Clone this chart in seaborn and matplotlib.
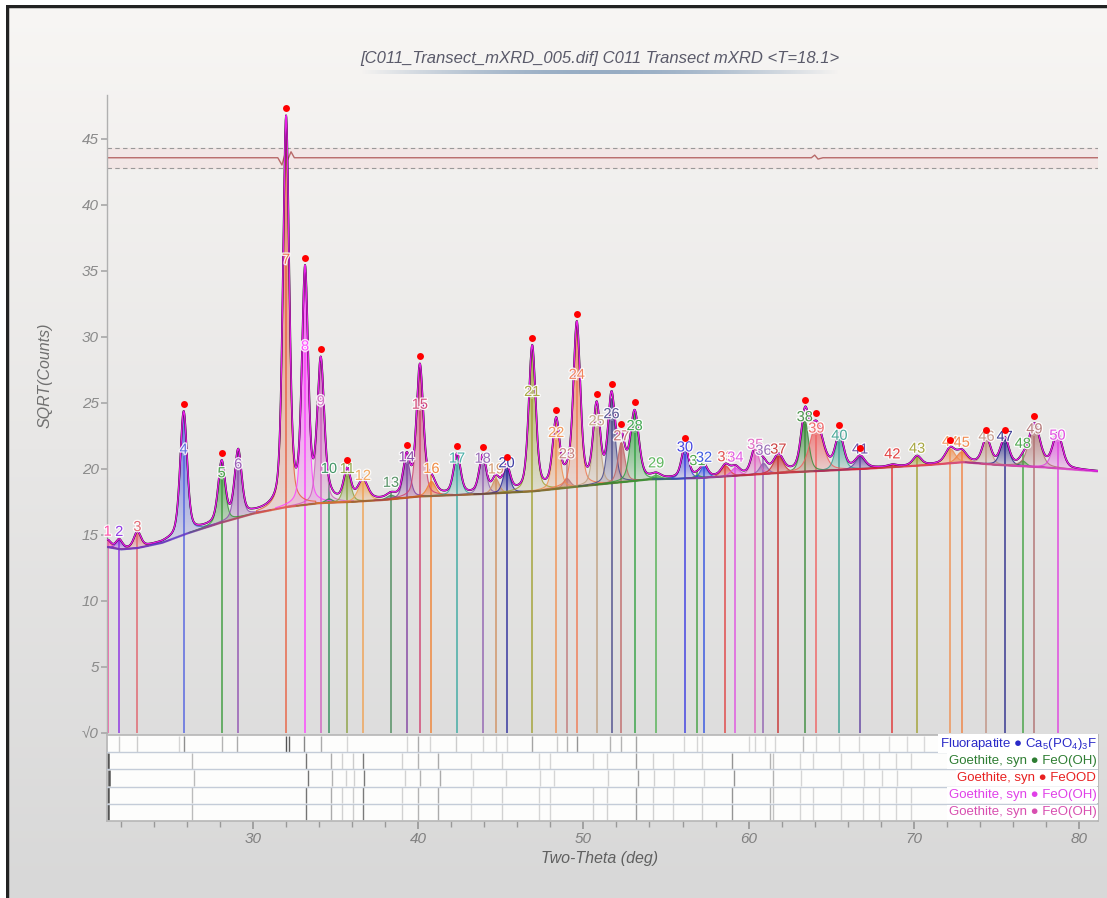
import numpy as np
import seaborn as sns
import matplotlib.pyplot as plt
import matplotlib.patheffects as pe
from matplotlib.colors import to_rgb, LinearSegmentedColormap
from matplotlib.collections import LineCollection
from matplotlib.patches import Rectangle
from matplotlib.lines import Line2D

# ---- peak list (2theta deg, net height above background, FWHM deg)
peak_pos = [21.2, 21.9, 23.0, 25.8, 28.1, 29.1, 32.0, 33.15, 34.1, 34.6,
            35.7, 36.65, 38.35, 39.3, 40.1, 40.8, 42.35, 43.9, 44.7, 45.35,
            46.9, 48.35, 49.0, 49.6, 50.8, 51.7, 52.3, 53.1, 54.4, 56.15,
            56.9, 57.3, 58.6, 59.2, 60.4, 60.9, 61.8, 63.4, 64.1, 65.5,
            66.75, 68.7, 70.2, 72.2, 72.9, 74.4, 75.5, 76.6, 77.3, 78.7]
peak_height = [0.5, 0.7, 1.2, 9.3, 4.5, 5.0, 29.3, 17.4, 10.5, 0.3,
               2.3, 1.5, 0.3, 3.0, 9.8, 1.1, 3.0, 2.8, 1.1, 1.9,
               10.9, 5.0, 0.7, 12.2, 5.8, 6.4, 3.0, 5.1, 0.3, 2.4,
               0.2, 0.9, 0.8, 0.6, 2.0, 0.8, 1.3, 3.9, 3.5, 2.6,
               0.9, 0.15, 0.7, 1.1, 0.8, 1.9, 2.0, 0.4, 3.2, 2.6]
peak_fwhm = [0.45, 0.45, 0.5, 0.5, 0.5, 0.5, 0.45, 0.45, 0.5, 0.5,
             0.5, 0.7, 0.6, 0.5, 0.5, 0.6, 0.5, 0.5, 0.5, 0.5,
             0.5, 0.5, 0.5, 0.5, 0.5, 0.5, 0.5, 0.6, 0.6, 0.5,
             0.5, 0.5, 0.6, 0.6, 0.55, 0.55, 0.7, 0.55, 0.95, 0.6,
             0.7, 0.6, 0.6, 0.7, 0.7, 0.6, 0.6, 0.5, 0.8, 0.7]
peak_colors = ['#ff3fa0', '#8a2be2', '#e0606a', '#5060e0', '#3a9a3a', '#9050b0', '#e86040', '#ff40ff', '#d060c0', '#2e8b57',
               '#8aa040', '#f0a050', '#4a8a5a', '#8040a0', '#d04070', '#f08030', '#3aa8a0', '#9060b0', '#d09060', '#2a2a9a',
               '#a0a030', '#f09050', '#c07878', '#f07850', '#c0a080', '#4a4a8a', '#c06868', '#30a040', '#50b050', '#3838e0',
               '#40a040', '#3050e0', '#e04040', '#e050e0', '#e060c0', '#9060b0', '#c83030', '#3a8a3a', '#f06060', '#3aa090',
               '#6040a0', '#e03030', '#a0a030', '#f09050', '#f08040', '#c09080', '#2a2a8a', '#40a040', '#b07070', '#e040e0']
marked_peaks = [4, 5, 7, 8, 9, 11, 14, 15, 17, 18, 20, 21, 22, 24, 25, 26, 27, 28,
                30, 38, 39, 40, 41, 44, 46, 47, 49]

# background knots
bg_deg = [21.1, 22.0, 23.0, 24.5, 26.0, 28.0, 30.0, 32.0, 34.0, 36.0, 38.0, 40.0,
          44.0, 47.0, 50.0, 54.0, 57.0, 62.0, 67.0, 71.0, 73.0, 75.0, 78.0, 81.2]
bg_val = [14.1, 13.9, 14.0, 14.4, 15.1, 15.9, 16.6, 17.1, 17.4, 17.5, 17.65, 17.9,
          18.1, 18.3, 18.7, 19.2, 19.3, 19.7, 20.0, 20.3, 20.5, 20.3, 20.1, 19.8]

# residual trace (difference curve shown at the top)
res_deg = [21.2, 31.5, 31.75, 31.95, 32.1, 32.3, 32.5, 33.0, 63.8, 64.0, 64.2, 64.5, 81.2]
res_val = [43.55, 43.55, 43.0, 43.9, 43.4, 44.0, 43.55, 43.55, 43.55, 43.75, 43.45, 43.55, 43.55]

# reference stick patterns for the phase strips (position, relative intensity)
fluorapatite_pos = [21.1, 21.9, 23.0, 25.5, 25.85, 28.1, 29.05, 32.0, 32.2, 33.1, 34.1, 35.7,
                    39.3, 40.0, 40.7, 42.3, 43.9, 44.7, 45.4, 46.9, 48.4, 49.0, 49.6, 51.6,
                    52.3, 53.2, 56.1, 56.9, 57.2, 60.0, 60.4, 61.0, 61.6, 63.3, 64.1, 65.5,
                    66.7, 68.5, 69.6, 70.6]
fluorapatite_int = [40, 15, 15, 10, 55, 30, 35, 100, 90, 60, 35, 10,
                    10, 35, 10, 15, 10, 10, 10, 40, 15, 30, 50, 30,
                    30, 40, 10, 10, 10, 10, 10, 10, 10, 25, 10, 10,
                    10, 8, 8, 8]
goethite_pos = [21.2, 26.3, 33.2, 34.7, 35.4, 36.05, 36.65, 39.0, 40.0, 41.2, 43.2, 45.1,
                47.3, 48.0, 50.6, 51.4, 53.2, 54.2, 55.4, 57.2, 59.0, 61.3, 61.5, 63.1,
                63.9, 65.6, 66.9, 67.9, 68.9, 69.8]
goethite_int = [100, 25, 75, 35, 12, 15, 70, 12, 30, 35, 10, 12,
                10, 10, 12, 12, 45, 12, 10, 12, 50, 30, 20, 10,
                10, 10, 10, 10, 10, 10]
feood_pos = [21.3, 26.4, 33.3, 34.8, 35.6, 36.1, 36.7, 39.2, 40.1, 41.3, 43.3, 45.3,
             47.4, 48.2, 51.5, 53.3, 54.3, 55.5, 57.3, 59.1, 61.5, 63.2, 65.7, 67.0,
             68.1, 69.0]
feood_int = [100, 25, 75, 30, 12, 12, 70, 12, 30, 35, 10, 12,
             10, 10, 12, 45, 12, 10, 10, 50, 30, 10, 10, 10,
             10, 10]

phase_names = ['Fluorapatite', 'Goethite, syn', 'Goethite, syn', 'Goethite, syn', 'Goethite, syn']
phase_formulas = [r'$\mathregular{Ca_5(PO_4)_3F}$', 'FeO(OH)', 'FeOOD', 'FeO(OH)', 'FeO(OH)']
phase_colors = ['#2a2ac8', '#2e7d32', '#e82020', '#e040e8', '#d84fb0']
phase_sticks = [(fluorapatite_pos, fluorapatite_int), (goethite_pos, goethite_int),
                (feood_pos, feood_int), (goethite_pos, goethite_int), (goethite_pos, goethite_int)]

title = '[C011_Transect_mXRD_005.dif] C011 Transect mXRD <T=18.1>'

sns.set_theme(style='white')
plt.rcParams['font.family'] = ['Liberation Sans', 'DejaVu Sans']

W, H = 1107, 898
fig = plt.figure(figsize=(W / 100, H / 100), dpi=100)

# panel background gradient
bgax = fig.add_axes([0, 0, 1, 1], zorder=-10)
top_c = np.array([248, 246, 244]) / 255
bot_c = np.array([216, 216, 216]) / 255
t = np.linspace(0, 1, 256)[:, None]
grad = (top_c * (1 - t) + bot_c * t)[:, None, :]
bgax.imshow(grad, extent=[0, 1, 0, 1], aspect='auto', origin='upper')
bgax.set_axis_off()

XMIN, XMAX = 21.16, 81.15
ax = fig.add_axes([107 / W, 1 - 733 / H, (1098 - 107) / W, (733 - 95) / H])
ax.patch.set_alpha(0)

x = np.linspace(XMIN, XMAX, 5000)
bg = np.interp(x, bg_deg, bg_val)


def pseudo_voigt(xx, c, w, eta=0.4):
    lor = 1.0 / (1.0 + ((xx - c) / (w / 2)) ** 2)
    gau = np.exp(-4 * np.log(2) * ((xx - c) / w) ** 2)
    return eta * lor + (1 - eta) * gau


comps = [h * pseudo_voigt(x, c, w) for c, h, w in zip(peak_pos, peak_height, peak_fwhm)]
total = bg + np.sum(comps, axis=0)

# individual peak fills with vertical gradient
for i, (c, w, comp, col) in enumerate(zip(peak_pos, peak_fwhm, comps, peak_colors)):
    m = (x > c - 4 * w) & (x < c + 4 * w)
    poly = ax.fill_between(x[m], bg[m], bg[m] + comp[m], facecolor='none',
                           edgecolor=col, lw=0.8, alpha=0.85, zorder=3)
    rgb = np.array(to_rgb(col))
    ng = 64
    g = np.zeros((ng, 1, 4))
    g[:, 0, :3] = rgb
    g[:, 0, 3] = np.linspace(0.12, 0.85, ng)
    y0 = bg[m].min()
    y1 = (bg[m] + comp[m]).max()
    im = ax.imshow(g, extent=[x[m][0], x[m][-1], y0, y1], aspect='auto',
                   origin='lower', zorder=2, interpolation='bilinear')
    im.set_clip_path(poly.get_paths()[0], transform=ax.transData)

# drop lines, labels, markers
halo = [pe.withStroke(linewidth=1.8, foreground=(1, 1, 1, 0.6))]
for i, (c, h, col) in enumerate(zip(peak_pos, peak_height, peak_colors)):
    top = np.interp(c, x, total)
    lab_y = top + 0.8 - 0.4 * h
    line_top = min(top, lab_y - 0.5)
    ax.vlines(c, 0, line_top, color=col, lw=1.2, alpha=0.85, zorder=1.5)
    ax.text(c, lab_y, str(i + 1), color=col, fontsize=10.5, ha='center', va='center',
            alpha=0.9, zorder=6, path_effects=halo)
    if (i + 1) in marked_peaks:
        ax.plot(c, top + 0.55, 'o', color='#ff0000', ms=5, mec='none', zorder=7)

# measured and fitted profile
sns.lineplot(x=x, y=total, ax=ax, color='black', lw=1.3, zorder=4)
sns.lineplot(x=x, y=total, ax=ax, color='#e61ee6', lw=1.0, zorder=5)

# coloured background line
bl_cmap = LinearSegmentedColormap.from_list('bl', [
    (0.0, '#4b2fd0'), (0.08, '#7030c0'), (0.12, '#c04060'), (0.18, '#e06030'),
    (0.28, '#c05020'), (0.38, '#8a5a20'), (0.48, '#4a7a20'), (0.55, '#3a8a30'),
    (0.58, '#4040c0'), (0.65, '#c03040'), (0.78, '#e02040'), (0.9, '#e040a0'),
    (1.0, '#e040e0')])
pts = np.column_stack([x, bg])
segs = np.stack([pts[:-1], pts[1:]], axis=1)
lc = LineCollection(segs, cmap=bl_cmap, lw=1.5, zorder=4.5)
lc.set_array((x[:-1] - XMIN) / (XMAX - XMIN))
ax.add_collection(lc)

# difference curve band
ax.axhspan(42.8, 44.3, color='#f3dede', alpha=0.5, zorder=1)
ax.axhline(44.3, color='#999999', lw=0.8, ls=(0, (4, 3)), zorder=1.2)
ax.axhline(42.8, color='#999999', lw=0.8, ls=(0, (4, 3)), zorder=1.2)
sns.lineplot(x=res_deg, y=res_val, ax=ax, color='#b86a6a', lw=1.0, zorder=1.3)

ax.set_xlim(XMIN, XMAX)
ax.set_ylim(0, 48.3)
ax.set_xticks([])
ax.set_xlabel('')
ax.set_ylabel('')
yt = list(range(0, 50, 5))
ax.set_yticks(yt)
ax.set_yticklabels(['\u221a0'] + [str(v) for v in yt[1:]], fontstyle='italic',
                   color='#8a8a8a', fontsize=11)
ax.tick_params(axis='y', left=True, length=4, color='#aaaaaa', pad=2)
for s in ['top', 'right', 'bottom']:
    ax.spines[s].set_visible(False)
ax.spines['left'].set_color('#b0b0b0')
ax.spines['left'].set_linewidth(1.0)

# phase strips
sax = fig.add_axes([107 / W, 1 - 821 / H, (1098 - 107) / W, (821 - 735) / H])
sax.set_xlim(XMIN, XMAX)
sax.set_ylim(5, 0)
sax.set_facecolor('#fdfdfc')
for r, ((spos, sint), name, form, pc) in enumerate(zip(phase_sticks, phase_names,
                                                       phase_formulas, phase_colors)):
    for p, v in zip(spos, sint):
        shade = 0.93 - 0.6 * (v / 100) ** 0.8
        sax.vlines(p, r + 0.04, r + 0.96, color=str(shade),
                   lw=1.8 if (v >= 90 and p < 22) else 1.0, zorder=2)
    sax.text(81.05, r + 0.5, f'{name} \u25cf {form}', color=pc, fontsize=9.5,
             ha='right', va='center', zorder=5,
             bbox=dict(facecolor='white', edgecolor='none', pad=1.2))
for r in range(1, 5):
    sax.axhline(r, color='#c4ccd8', lw=1.0, zorder=3)
for s in sax.spines.values():
    s.set_color('#b8b8b8')
sax.set_yticks([])
sax.set_xticks(range(30, 81, 10))
sax.set_xticks(np.arange(22, 81, 2), minor=True)
sax.set_xticklabels([str(v) for v in range(30, 81, 10)], fontstyle='italic',
                    color='#808080', fontsize=11)
sax.tick_params(axis='x', which='both', bottom=True, direction='out', color='#999999', pad=2)
sax.tick_params(axis='x', which='major', length=6)
sax.tick_params(axis='x', which='minor', length=4)

# texts
fig.text(600 / W, 1 - 58 / H, title, ha='center', va='center', fontsize=12,
         fontstyle='italic', color='#5a5a6a')
ul = fig.add_axes([360 / W, 1 - 74 / H, 480 / W, 4 / H])
ug = np.zeros((1, 256, 4))
ug[0, :, :3] = to_rgb('#7f9ab8')
ug[0, :, 3] = np.sin(np.linspace(0, np.pi, 256)) * 0.8
ul.imshow(ug, aspect='auto', extent=[0, 1, 0, 1])
ul.set_axis_off()

fig.text(45 / W, 1 - 375 / H, 'SQRT(Counts)', rotation=90, ha='center', va='center',
         fontsize=11.5, fontstyle='italic', color='#707070')
fig.text(600 / W, 1 - 858 / H, 'Two-Theta (deg)', ha='center', va='center',
         fontsize=11.5, fontstyle='italic', color='#606060')

# outer frame
fig.patches.append(Rectangle((0, 1 - 5 / H), 1, 5 / H, transform=fig.transFigure,
                             facecolor='white', edgecolor='none', zorder=5))
fig.patches.append(Rectangle((0, 0), 6 / W, 1, transform=fig.transFigure,
                             facecolor='white', edgecolor='none', zorder=5))
fig.lines.append(Line2D([6 / W, 1], [1 - 6 / H, 1 - 6 / H], transform=fig.transFigure,
                        color='#222222', lw=2.5))
fig.lines.append(Line2D([7 / W, 7 / W], [0, 1 - 6 / H], transform=fig.transFigure,
                        color='#222222', lw=2.5))

fig.savefig('out.png', dpi=100)
